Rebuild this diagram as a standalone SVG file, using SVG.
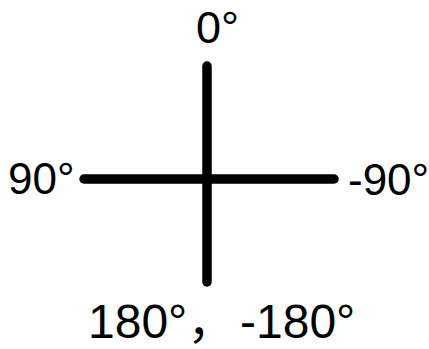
<svg xmlns="http://www.w3.org/2000/svg" width="429" height="349" viewBox="0 0 429 349">
<style>
.lbl{font-family:"Liberation Sans","Noto Sans CJK SC",Arial,sans-serif;fill:#000}
.ax{stroke:#000;stroke-width:9.5;stroke-linecap:round;fill:none}
</style>
<rect width="429" height="349" fill="#fff"/>
<g id="axes">
<line class="ax" x1="207" y1="66" x2="207" y2="282"/>
<line class="ax" x1="84" y1="179" x2="334" y2="179"/>
</g>
<g id="label-top"><text class="lbl" x="196" y="43" font-size="45">0°</text></g>
<g id="label-left"><text class="lbl" x="8" y="194" font-size="44">90°</text></g>
<g id="label-right"><text class="lbl" x="348" y="195" font-size="44">-90°</text></g>
<g id="label-bottom"><text class="lbl" x="88" y="338" font-size="48">180°<tspan>，</tspan><tspan x="240">-180°</tspan></text></g>
</svg>
